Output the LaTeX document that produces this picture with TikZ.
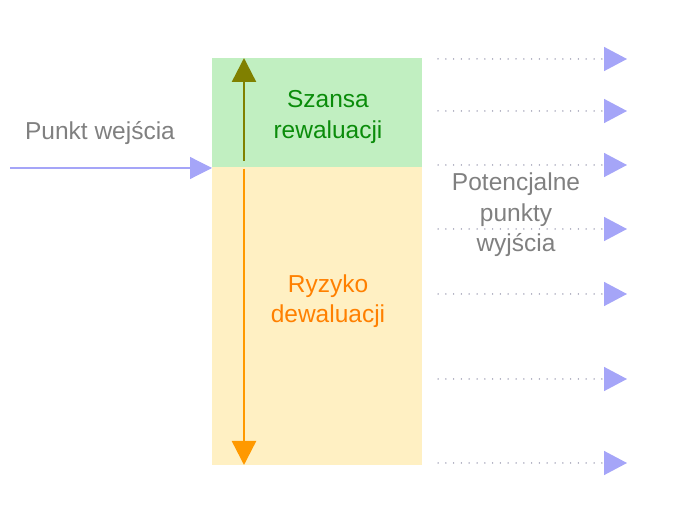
\documentclass[tikz,border=0pt]{standalone}
\usepackage{fontspec}
\setmainfont{Liberation Sans}
\usetikzlibrary{arrows.meta}
\definecolor{boxgreen}{RGB}{193,239,193}
\definecolor{boxyellow}{RGB}{255,240,195}
\definecolor{txtgreen}{RGB}{10,140,10}
\definecolor{txtorange}{RGB}{255,128,0}
\definecolor{arrorange}{RGB}{255,153,0}
\definecolor{arrolive}{RGB}{128,128,0}
\definecolor{lav}{RGB}{165,165,248}
\definecolor{dotgray}{RGB}{140,140,165}
\definecolor{txtgray}{RGB}{128,128,128}
\begin{document}
\begin{tikzpicture}[x=1pt,y=-1pt,
  lbl/.style={align=center,inner sep=0pt,font=\fontsize{24.5}{30.5}\selectfont},
  exitline/.style={draw=dotgray,line width=1.5pt,line cap=round,dash pattern=on 0pt off 7.8pt,
    -{Triangle[length=23pt,width=24pt,color=lav,fill=lav]}},
  bigarrow/.style={line width=2.4pt,-{Triangle[length=24pt,width=24pt]}}]
\useasboundingbox (0,0) rectangle (686,526);
% boxes
\node[fill=boxgreen,draw=none,minimum width=210pt,minimum height=109pt,inner sep=0pt,anchor=north west] (green) at (212,58) {};
\node[fill=boxyellow,draw=none,minimum width=210pt,minimum height=298pt,inner sep=0pt,anchor=north west] (yellow) at (212,167) {};
% vertical arrows
\coordinate (upstart) at (244,161);
\coordinate (uptip) at (244,58);
\coordinate (downstart) at (244,169);
\coordinate (downtip) at (244,465);
\draw[bigarrow,draw=arrolive,fill=arrolive] (upstart) -- (uptip);
\draw[bigarrow,draw=arrorange,fill=arrorange] (downstart) -- (downtip);
% labels
\node[lbl,text=txtgreen] (szansa) at (328,117) {Szansa\\rewaluacji};
\node[lbl,text=txtorange] (ryzyko) at (328,301) {Ryzyko\\dewaluacji};
\node[lbl,text=txtgray] (wyjscia) at (516,215) {Potencjalne\\punkty\\wyjścia};
\node[lbl,text=txtgray] (wejscie) at (100,133) {Punkt wejścia};
% entry arrow
\coordinate (entrystart) at (10,168);
\coordinate (entrytip) at (212,168);
\draw[draw=lav,line width=1.2pt,-{Triangle[length=22pt,width=22pt,color=lav,fill=lav]}] (entrystart) -- (entrytip);
% exit lines
\foreach \i/\y in {1/59,2/111,3/165,4/229,5/294,6/379,7/463}{
  \coordinate (es\i) at (438,\y);
  \coordinate (ee\i) at (627,\y);
  \draw[exitline] (es\i) -- (ee\i);
}
\end{tikzpicture}
\end{document}
